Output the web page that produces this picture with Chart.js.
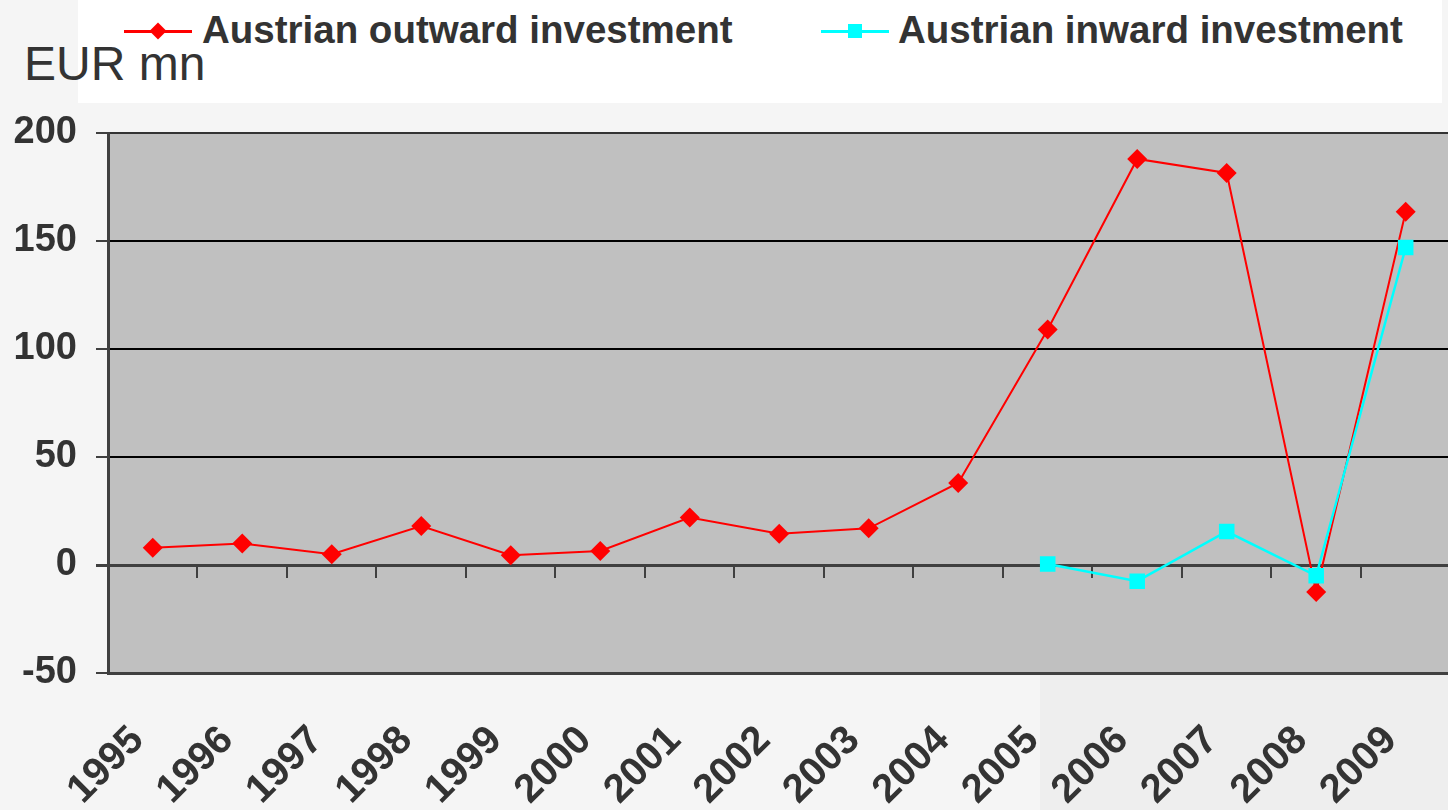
<!DOCTYPE html>
<html lang="en">
<head>
<meta charset="UTF-8">
<title>Austrian investment</title>
<script src="https://cdn.jsdelivr.net/npm/chart.js@4.4.1/dist/chart.umd.min.js"></script>
<style>
  body {
    margin: 0;
    width: 1448px;
    height: 810px;
    overflow: hidden;
    background: #f5f5f5;
    font-family: 'Liberation Sans', Arial, sans-serif;
    position: relative;
  }
  .shade {
    position: absolute;
    left: 1040px; top: 672px;
    width: 408px; height: 138px;
    background: #eeeeee;
  }
  .wrap {
    position: absolute;
    left: 0; top: 0;
    width: 1476px; height: 810px;
  }
  .legendbox {
    position: absolute;
    left: 78px; top: 0;
    width: 1364px; height: 103px;
    background: #fff;
  }
  .unit {
    position: absolute;
    left: 24px; top: 40px;
    font-size: 48px;
    color: #333;
    line-height: 1;
  }
  .item {
    position: absolute;
    top: 11px;
    font-size: 38.5px;
    font-weight: bold;
    color: #333;
    line-height: 1;
    white-space: nowrap;
  }
  .key {
    position: absolute;
    height: 3px;
    width: 68px;
  }
  .mark {
    position: absolute;
  }
</style>
</head>
<body>
<div class="shade"></div>
<div class="legendbox" id="legend"></div>
<div class="unit">EUR mn</div>
<div class="wrap"><canvas id="chart" width="1476" height="810"></canvas></div>

<script>
  // Data (EUR mn)
  const years = ['1995', '1996', '1997', '1998', '1999', '2000', '2001', '2002',
                 '2003', '2004', '2005', '2006', '2007', '2008', '2009'];
  const outward = [8, 10, 5, 18, 4.5, 6.5, 22, 14.5, 17, 38, 109, 188, 181.5, -12.5, 163.5];
  const inward = [null, null, null, null, null, null, null, null, null, null,
                  0.5, -7.5, 15.5, -5, 147];
  const yTicks = [-50, 0, 50, 100, 150, 200];

  // Legend (line + marker, like the original)
  const legend = document.getElementById('legend');
  function addKey(lineX, textX, color, label, diamond) {
    const line = document.createElement('div');
    line.className = 'key';
    line.style.left = (lineX - 78) + 'px';
    line.style.top = '30px';
    line.style.background = color;
    legend.appendChild(line);
    const m = document.createElement('div');
    m.className = 'mark';
    m.style.background = color;
    if (diamond) {
      m.style.width = '12px'; m.style.height = '12px';
      m.style.left = (lineX - 78 + 28) + 'px'; m.style.top = '25px';
      m.style.transform = 'rotate(45deg)';
    } else {
      m.style.width = '14px'; m.style.height = '14px';
      m.style.left = (lineX - 78 + 27) + 'px'; m.style.top = '24px';
    }
    legend.appendChild(m);
    const t = document.createElement('div');
    t.className = 'item';
    t.style.left = (textX - 78) + 'px';
    t.textContent = label;
    legend.appendChild(t);
  }
  addKey(124, 202, '#ff0000', 'Austrian outward investment', true);
  addKey(821, 898, '#00ffff', 'Austrian inward investment', false);

  // grey plot background
  const plotBg = {
    id: 'plotBg',
    beforeDraw(chart) {
      const a = chart.chartArea, c = chart.ctx;
      c.save();
      c.fillStyle = '#c0c0c0';
      c.fillRect(a.left, a.top, a.right - a.left, a.bottom - a.top);
      c.restore();
    }
  };

  // small tick marks below the zero line between categories
  const zeroTicks = {
    id: 'zeroTicks',
    beforeDatasetsDraw(chart) {
      const x = chart.scales.x, y = chart.scales.y, c = chart.ctx;
      const y0 = y.getPixelForValue(0);
      c.save();
      c.strokeStyle = '#404040';
      c.lineWidth = 2;
      c.beginPath();
      for (let i = 1; i < years.length; i++) {
        const px = Math.round((x.getPixelForValue(i - 1) + x.getPixelForValue(i)) / 2);
        c.moveTo(px, y0);
        c.lineTo(px, y0 + 13);
      }
      c.stroke();
      c.restore();
    }
  };

  new Chart(document.getElementById('chart'), {
    type: 'line',
    data: {
      labels: years,
      datasets: [
        {
          label: 'Austrian outward investment',
          data: outward,
          borderColor: '#ff0000',
          backgroundColor: '#ff0000',
          borderWidth: 2,
          pointStyle: 'rectRot',
          pointRadius: 10,
          pointBorderWidth: 0,
          tension: 0,
          order: 2
        },
        {
          label: 'Austrian inward investment',
          data: inward,
          borderColor: '#00ffff',
          backgroundColor: '#00ffff',
          borderWidth: 2.5,
          pointStyle: 'rect',
          pointRadius: 11,
          pointBorderWidth: 0,
          tension: 0,
          order: 1
        }
      ]
    },
    options: {
      responsive: false,
      animation: false,
      layout: { padding: { top: 133, right: 0, left: 0, bottom: 0 } },
      plugins: {
        legend: { display: false },
        tooltip: { enabled: false }
      },
      scales: {
        x: {
          offset: true,
          grid: { display: false },
          border: { display: true, color: '#404040', width: 3 },
          ticks: {
            color: '#333',
            font: { family: "'Liberation Sans', Arial, sans-serif", size: 40, weight: 'bold' },
            minRotation: 45,
            maxRotation: 45,
            padding: 36,
            labelOffset: -15,
            autoSkip: false
          },
          afterFit(s) { s.height = 137; }
        },
        y: {
          min: -50,
          max: 200,
          afterBuildTicks(s) { s.ticks = yTicks.map(v => ({ value: v })); },
          grid: {
            color(ctx) {
              const v = ctx.tick.value;
              if (v === 0 || v === -50) return '#404040';
              if (v === 200) return '#333';
              return '#000';
            },
            lineWidth(ctx) { return ctx.tick.value === 0 ? 3 : 2; },
            tickLength: 12,
            tickColor: '#404040'
          },
          border: { display: true, color: '#404040', width: 3 },
          ticks: {
            color: '#333',
            font: { family: "'Liberation Sans', Arial, sans-serif", size: 38, weight: 'bold' },
            padding: 19
          },
          afterFit(s) { s.width = 108; }
        }
      }
    },
    plugins: [plotBg, zeroTicks]
  });
</script>
</body>
</html>
